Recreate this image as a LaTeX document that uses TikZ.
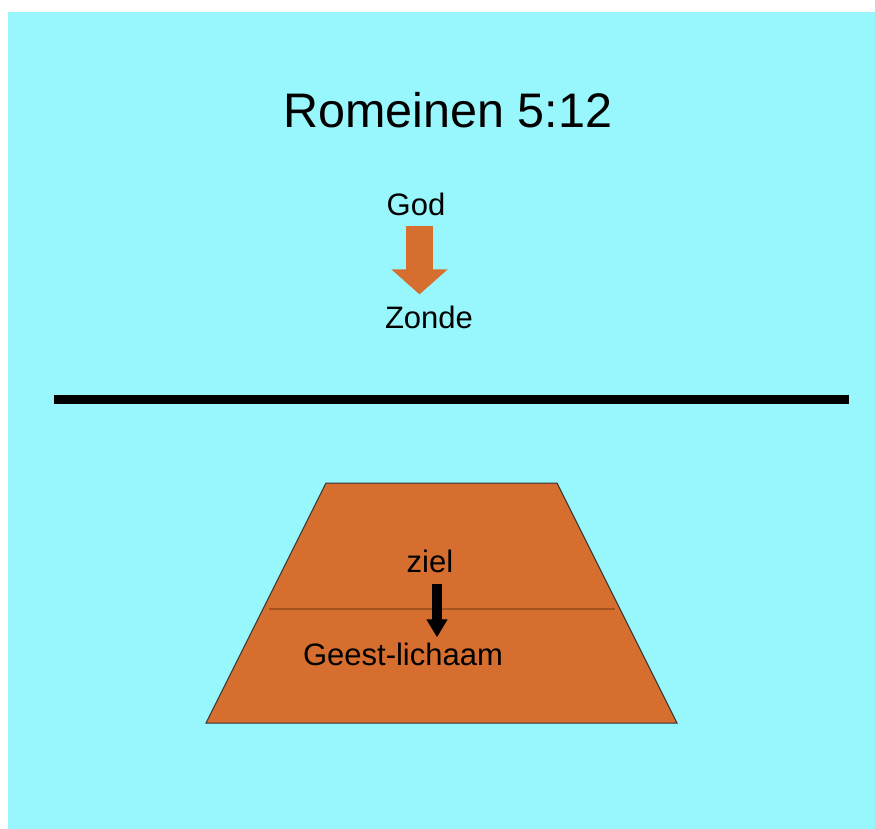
\documentclass[tikz,border=0pt]{standalone}
\usepackage{fontspec}
\setmainfont{Liberation Sans}
\usetikzlibrary{arrows.meta}
\definecolor{skycyan}{RGB}{152,247,252}
\definecolor{clay}{RGB}{214,110,48}
\definecolor{darkclay}{RGB}{165,82,34}
\begin{document}
\begin{tikzpicture}[x=1pt, y=-1pt, >=Triangle,
  label/.style={inner sep=0pt, anchor=base, font=\fontsize{31}{37}\selectfont}]
\useasboundingbox (0,0) rectangle (875,829);
\fill[skycyan] (8,12) rectangle (875,829);
\node[inner sep=0pt, anchor=base, font=\fontsize{48.5}{58}\selectfont] (title) at (448,128) {Romeinen 5:12};
\node[label] (god) at (416,215) {God};
\node[label] (zonde) at (429,328) {Zonde};
\draw[-{Triangle[width=55pt, length=25pt]}, line width=27pt, clay] ([xshift=3.5pt, yshift=-10pt]god.south) -- ([xshift=-9.5pt, yshift=11pt]zonde.north);
\draw[line width=9pt, black] (54,399.5) -- (849,399.5);
\fill[clay, draw=black!80, line width=1pt] (326,483) -- (557,483) -- (677,723) -- (206,723) -- cycle;
\draw[darkclay, line width=2pt] (269,609) -- (615,609);
\node[label] (ziel) at (430,572) {ziel};
\node[label] (geest) at (403,665) {Geest-lichaam};
\draw[-{Triangle[width=20pt, length=18pt]}, line width=10pt, black] ([xshift=7pt, yshift=-11pt]ziel.south) -- ([xshift=34pt, yshift=5pt]geest.north);
\end{tikzpicture}
\end{document}
